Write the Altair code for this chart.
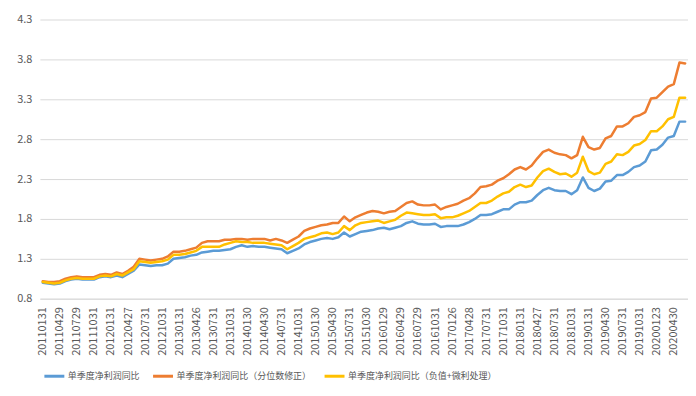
import altair as alt
import pandas as pd

dates = [
    "20110131", "20110228", "20110331", "20110429", "20110531", "20110630",
    "20110729", "20110831", "20110930", "20111031", "20111130", "20111230",
    "20120131", "20120229", "20120330", "20120427", "20120531", "20120629",
    "20120731", "20120831", "20120928", "20121031", "20121130", "20121231",
    "20130131", "20130228", "20130329", "20130426", "20130531", "20130628",
    "20130731", "20130830", "20130930", "20131031", "20131129", "20131231",
    "20140130", "20140228", "20140331", "20140430", "20140530", "20140630",
    "20140731", "20140829", "20140930", "20141031", "20141128", "20141231",
    "20150130", "20150227", "20150331", "20150430", "20150529", "20150630",
    "20150731", "20150831", "20150930", "20151030", "20151130", "20151231",
    "20160129", "20160229", "20160331", "20160429", "20160531", "20160630",
    "20160729", "20160831", "20160930", "20161031", "20161130", "20161230",
    "20170126", "20170228", "20170331", "20170428", "20170531", "20170630",
    "20170731", "20170831", "20170929", "20171031", "20171130", "20171229",
    "20180131", "20180228", "20180330", "20180427", "20180531", "20180629",
    "20180731", "20180831", "20180928", "20181031", "20181130", "20181228",
    "20190131", "20190228", "20190329", "20190430", "20190531", "20190628",
    "20190731", "20190830", "20190930", "20191031", "20191129", "20191231",
    "20200123", "20200228", "20200331", "20200430", "20200529", "20200630",
]

tick_labels = [
    "20110131", "20110429", "20110729", "20111031", "20120131", "20120427",
    "20120731", "20121031", "20130131", "20130426", "20130731", "20131031",
    "20140130", "20140430", "20140731", "20141031", "20150130", "20150430",
    "20150731", "20151030", "20160129", "20160429", "20160729", "20161031",
    "20170126", "20170428", "20170731", "20171031", "20180131", "20180427",
    "20180731", "20181031", "20190131", "20190430", "20190731", "20191031",
    "20200123", "20200430",
]

y_ticks = [0.8, 1.3, 1.8, 2.3, 2.8, 3.3, 3.8, 4.3]

series_names = [
    "单季度净利润同比",
    "单季度净利润同比（分位数修正）",
    "单季度净利润同比（负值+微利处理）",
]
series_colors = ["#5B9BD5", "#ED7D31", "#FFC000"]

blue = [
    1.00, 0.99, 0.98, 0.99, 1.02, 1.04, 1.05, 1.04, 1.04, 1.04, 1.07, 1.08,
    1.07, 1.09, 1.07, 1.11, 1.15, 1.23, 1.22, 1.21, 1.22, 1.22, 1.24, 1.30,
    1.31, 1.32, 1.34, 1.35, 1.38, 1.39, 1.40, 1.40, 1.41, 1.42, 1.45, 1.47,
    1.45, 1.46, 1.45, 1.45, 1.44, 1.43, 1.42, 1.37, 1.40, 1.43, 1.48, 1.51,
    1.53, 1.55, 1.56, 1.55, 1.57, 1.63, 1.58, 1.61, 1.64, 1.65, 1.66, 1.68,
    1.69, 1.67, 1.69, 1.71, 1.75, 1.77, 1.74, 1.73, 1.73, 1.74, 1.70, 1.71,
    1.71, 1.71, 1.73, 1.76, 1.80, 1.85, 1.85, 1.86, 1.89, 1.92, 1.92, 1.98,
    2.01, 2.01, 2.03, 2.10, 2.16, 2.19, 2.16, 2.15, 2.15, 2.11, 2.16, 2.32,
    2.19, 2.15, 2.18, 2.27, 2.28, 2.35, 2.35, 2.39, 2.45, 2.47, 2.52, 2.66,
    2.67, 2.73, 2.82, 2.84, 3.02, 3.02,
]

orange = [
    1.02, 1.01, 1.01, 1.02, 1.05, 1.07, 1.08, 1.07, 1.07, 1.07, 1.10, 1.11,
    1.10, 1.13, 1.11, 1.15, 1.20, 1.30, 1.29, 1.28, 1.29, 1.30, 1.33, 1.39,
    1.39, 1.40, 1.42, 1.44, 1.50, 1.52, 1.52, 1.52, 1.54, 1.54, 1.55, 1.55,
    1.54, 1.55, 1.55, 1.55, 1.53, 1.55, 1.53, 1.50, 1.54, 1.58, 1.65, 1.68,
    1.70, 1.72, 1.73, 1.75, 1.75, 1.83, 1.77, 1.82, 1.85, 1.88, 1.90, 1.89,
    1.87, 1.89, 1.90, 1.95, 2.00, 2.02, 1.98, 1.97, 1.97, 1.98, 1.92, 1.95,
    1.97, 1.99, 2.03, 2.06, 2.12, 2.20, 2.21, 2.23, 2.28, 2.31, 2.36, 2.42,
    2.45, 2.42, 2.47, 2.56, 2.64, 2.67, 2.63, 2.61, 2.60, 2.56, 2.60, 2.83,
    2.70, 2.67, 2.69, 2.81, 2.84, 2.96, 2.96, 3.00, 3.08, 3.10, 3.14, 3.31,
    3.32, 3.39, 3.46, 3.49, 3.76, 3.75,
]

yellow = [
    1.01, 1.00, 0.99, 1.00, 1.03, 1.05, 1.06, 1.05, 1.05, 1.05, 1.08, 1.09,
    1.08, 1.11, 1.09, 1.13, 1.17, 1.27, 1.26, 1.25, 1.26, 1.27, 1.29, 1.35,
    1.35, 1.36, 1.38, 1.40, 1.45, 1.45, 1.45, 1.45, 1.48, 1.50, 1.52, 1.51,
    1.51, 1.50, 1.50, 1.50, 1.49, 1.48, 1.47, 1.42, 1.46, 1.50, 1.55, 1.57,
    1.59, 1.62, 1.63, 1.61, 1.63, 1.71, 1.66, 1.72, 1.75, 1.76, 1.77, 1.78,
    1.75, 1.77, 1.79, 1.84, 1.88, 1.87, 1.86, 1.85, 1.85, 1.86, 1.81, 1.82,
    1.82, 1.84, 1.87, 1.90, 1.95, 2.00, 2.00, 2.03, 2.08, 2.12, 2.14, 2.20,
    2.23, 2.20, 2.22, 2.32, 2.40, 2.43, 2.39, 2.36, 2.37, 2.33, 2.38, 2.58,
    2.40, 2.36, 2.38, 2.49, 2.52, 2.61, 2.60, 2.64, 2.72, 2.74, 2.79, 2.90,
    2.90, 2.96, 3.05, 3.08, 3.32, 3.32,
]

rows = []
for name, vals in zip(series_names, [blue, orange, yellow]):
    for d, v in zip(dates, vals):
        rows.append({"date": d, "series": name, "value": v})
df = pd.DataFrame(rows)

FONT = "Noto Sans CJK SC"
GRAY = "#595959"
GRID = "#D9D9D9"

chart = (
    alt.Chart(df)
    .mark_line(strokeWidth=2.5, strokeJoin="round", strokeCap="round")
    .encode(
        x=alt.X(
            "date:O",
            sort=dates,
            scale=alt.Scale(type="point", padding=0.5),
            axis=alt.Axis(
                values=tick_labels,
                labelAngle=-90,
                labelAlign="right",
                labelBaseline="middle",
                labelOverlap=False,
                ticks=False,
                grid=False,
                domainColor=GRID,
                domainWidth=1,
                labelColor=GRAY,
                labelFont=FONT,
                labelFontSize=11,
                labelPadding=8,
                title=None,
            ),
        ),
        y=alt.Y(
            "value:Q",
            scale=alt.Scale(domain=[0.8, 4.3], nice=False, zero=False),
            axis=alt.Axis(
                values=y_ticks,
                format=".1f",
                domain=False,
                ticks=False,
                gridColor=GRID,
                gridWidth=1,
                labelColor=GRAY,
                labelFont=FONT,
                labelFontSize=11,
                labelPadding=8,
                title=None,
            ),
        ),
        color=alt.Color(
            "series:N",
            sort=series_names,
            scale=alt.Scale(domain=series_names, range=series_colors),
            legend=alt.Legend(
                orient="none",
                legendX=3,
                legendY=346,
                direction="horizontal",
                title=None,
                symbolType="stroke",
                symbolSize=400,
                symbolStrokeWidth=3,
                labelFont=FONT,
                labelFontSize=9,
                labelColor=GRAY,
                labelOffset=2,
                columnPadding=6,
                padding=0,
            ),
        ),
    )
    .properties(
        width=650,
        height=280,
        autosize=alt.AutoSizeParams(type="none"),
        padding={"left": 32, "top": 11, "right": 0, "bottom": 89},
    )
    .configure_view(stroke=None)
)

chart.save("out.html", embed_options={"renderer": "svg", "actions": False})
